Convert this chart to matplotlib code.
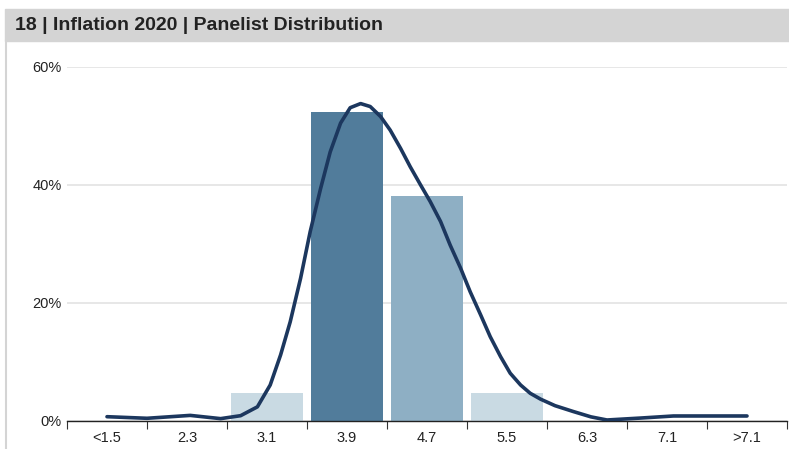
import matplotlib.pyplot as plt
from matplotlib.patches import Rectangle
from matplotlib.lines import Line2D

plt.rcParams['font.family'] = ['Liberation Sans', 'DejaVu Sans']

title = "18 | Inflation 2020 | Panelist Distribution"
categories = ["<1.5", "2.3", "3.1", "3.9", "4.7", "5.5", "6.3", "7.1", ">7.1"]
shares = [0, 0, 4.76, 52.38, 38.10, 4.76, 0, 0, 0]
bar_colors = ["#c9dae3", "#c9dae3", "#c9dae3", "#517c9b", "#8eafc4",
              "#c9dae3", "#c9dae3", "#c9dae3", "#c9dae3"]

# smoothed distribution line (x in category index units)
curve_x = [0.00, 0.50, 1.04, 1.42, 1.67, 1.88, 2.04, 2.17, 2.29, 2.42, 2.54,
           2.67, 2.79, 2.92, 3.04, 3.17, 3.29, 3.42, 3.54, 3.67, 3.79, 3.92,
           4.04, 4.17, 4.29, 4.42, 4.54, 4.67, 4.79, 4.92, 5.04, 5.17, 5.29,
           5.42, 5.60, 5.83, 6.05, 6.25, 6.67, 7.08, 8.00]
curve_y = [0.73, 0.46, 0.95, 0.40, 0.90, 2.4, 6.1, 11.2, 16.8, 24.2, 32.1,
           39.4, 45.6, 50.5, 53.1, 53.8, 53.3, 51.6, 49.3, 46.2, 43.1, 40.0,
           37.2, 33.8, 29.8, 25.9, 21.9, 18.0, 14.3, 10.9, 8.1, 6.1, 4.7,
           3.7, 2.6, 1.6, 0.7, 0.17, 0.5, 0.85, 0.85]

fig = plt.figure(figsize=(7.89, 4.49), dpi=100)

# header band and left border
fig.patches.append(Rectangle((5 / 789, 1 - 41 / 449), 1, 32 / 449,
                             transform=fig.transFigure, color="#d4d4d4", zorder=0))
fig.lines.append(Line2D([5.5 / 789, 5.5 / 789], [0, 1 - 41 / 449],
                        transform=fig.transFigure, color="#d4d4d4", lw=1.5))
fig.text(15 / 789, 1 - 25 / 449, title, fontsize=14, fontweight="bold",
         color="#222222", va="center", ha="left")

ax = fig.add_axes([67 / 789, 28 / 449, 720 / 789, 354 / 449])
x = range(len(categories))
ax.bar(x, shares, width=0.9, color=bar_colors, zorder=2)
ax.plot(curve_x, curve_y, color="#1c375e", lw=2.6, zorder=3,
        solid_capstyle="round", solid_joinstyle="round")

ax.set_xlim(-0.5, len(categories) - 0.5)
ax.set_ylim(0, 60)
ax.set_yticks([0, 20, 40, 60])
ax.set_yticklabels(["0%", "20%", "40%", "60%"])
ax.yaxis.grid(True, color="#e3e3e3", lw=1.2, zorder=0)
ax.set_axisbelow(True)
ax.tick_params(axis="y", length=0, pad=4, labelsize=10.5, labelcolor="#222222")

ax.set_xticks([i - 0.5 for i in range(len(categories) + 1)])
ax.set_xticklabels([])
ax.set_xticks(list(x), minor=True)
ax.set_xticklabels(categories, minor=True)
ax.tick_params(axis="x", which="major", length=6, width=0.8, color="#333333")
ax.tick_params(axis="x", which="minor", length=0, pad=7, labelsize=10.5,
               labelcolor="#222222")

for s in ["left", "right", "top"]:
    ax.spines[s].set_visible(False)
ax.spines["bottom"].set_color("#222222")
ax.spines["bottom"].set_linewidth(1.0)

fig.savefig("out.png", dpi=100)
